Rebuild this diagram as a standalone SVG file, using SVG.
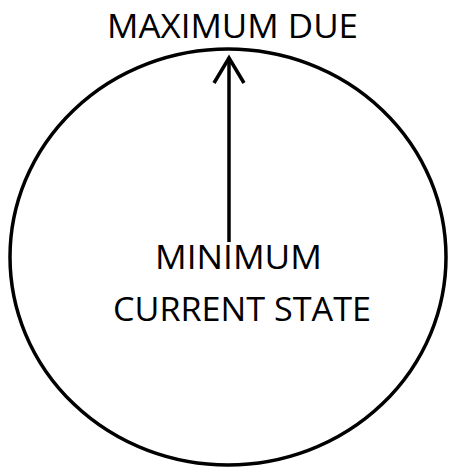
<svg xmlns="http://www.w3.org/2000/svg" width="449" height="468" viewBox="0 0 449 468">
<style>
.lbl{font-family:"Open Sans","Liberation Sans",sans-serif;font-size:33px;fill:#000;}
.ln{stroke:#000;stroke-width:3.5;fill:none;}
</style>
<rect width="449" height="468" fill="#fff"/>
<g id="circle"><ellipse class="ln" cx="228" cy="257" rx="218" ry="208" stroke-width="4"/></g>
<g id="connectors">
<line class="ln" x1="229" y1="242" x2="229" y2="60" stroke-width="3"/>
<polyline class="ln" points="214,83 229,58 244,83" stroke-width="3.5"/>
</g>
<g id="top"><text class="lbl" x="107" y="38" textLength="251" lengthAdjust="spacingAndGlyphs">MAXIMUM DUE</text></g>
<g id="center">
<text class="lbl" x="155" y="269" textLength="167" lengthAdjust="spacingAndGlyphs">MINIMUM</text>
<text class="lbl" x="113" y="321" textLength="258" lengthAdjust="spacingAndGlyphs">CURRENT STATE</text>
</g>
</svg>
